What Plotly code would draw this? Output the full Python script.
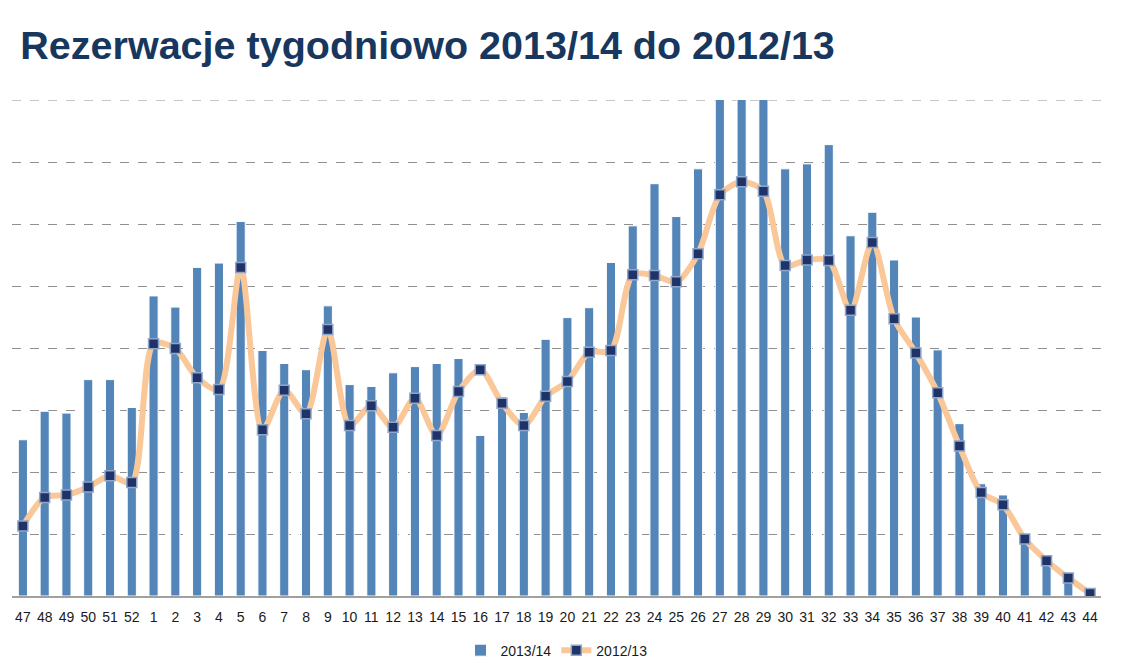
import plotly.graph_objects as go

weeks = ['47', '48', '49', '50', '51', '52'] + [str(i) for i in range(1, 45)]

season_1314 = [2.52, 2.98, 2.95, 3.49, 3.49, 3.04, 4.84, 4.66, 5.30, 5.37,
               6.04, 3.96, 3.75, 3.65, 4.68, 3.41, 3.38, 3.60, 3.70, 3.75,
               3.83, 2.59, 3.21, 2.96, 4.14, 4.49, 4.65, 5.38, 5.97, 6.65,
               6.12, 6.89, 8.60, 8.90, 8.70, 6.89, 6.97, 7.28, 5.81, 6.19,
               5.42, 4.50, 3.97, 2.78, 1.81, 1.63, 1.00, 0.65, 0.37, 0.03]

season_1213 = [1.13, 1.59, 1.63, 1.76, 1.94, 1.83, 4.07, 3.99, 3.52, 3.33,
               5.30, 2.68, 3.32, 2.94, 4.30, 2.75, 3.07, 2.72, 3.19, 2.59,
               3.30, 3.65, 3.11, 2.75, 3.22, 3.46, 3.93, 3.96, 5.18, 5.17,
               5.07, 5.52, 6.47, 6.68, 6.53, 5.33, 5.42, 5.41, 4.61, 5.70,
               4.47, 3.92, 3.28, 2.42, 1.67, 1.47, 0.92, 0.57, 0.29, 0.04]

y_top = 8

fig = go.Figure()

fig.add_trace(go.Bar(
    x=weeks, y=season_1314, name='2013/14',
    marker=dict(color='#5385b8', line=dict(color='#ffffff', width=1)),
))

fig.add_trace(go.Scatter(
    x=weeks, y=season_1213, name='2012/13',
    mode='lines+markers',
    line=dict(color='#fac898', width=6, shape='spline', smoothing=0.8),
    marker=dict(symbol='square', size=10, color='#1f3368',
                line=dict(color='#8fa6c9', width=1.5)),
))

# top gridline (plotly drops the one sitting on the range edge)
fig.add_hline(y=y_top, line=dict(color='#909090', width=1, dash='dash'), layer='below')

fig.update_xaxes(
    type='category', range=[-0.5, len(weeks) - 0.5], showgrid=False, ticks='',
    ticklabelstandoff=7,
    showline=True, linecolor='#a0a0a0', linewidth=1.5,
    tickfont=dict(family='Liberation Sans, sans-serif', size=14, color='#1a1a1a'),
)
fig.update_yaxes(
    range=[0, y_top], dtick=1, showticklabels=False,
    showgrid=True, gridcolor='#909090', griddash='dash', gridwidth=1,
    zeroline=False,
)

# page body adds 8px offset, so margins are shifted to compensate
fig.update_layout(
    width=1123, height=671,
    paper_bgcolor='white', plot_bgcolor='white',
    margin=dict(l=4, r=30, t=92, b=83),
    bargap=0.58,
    title=dict(
        text='<b>Rezerwacje tygodniowo 2013/14 do 2012/13</b>',
        x=0.011, xanchor='left', y=0.945, yanchor='middle',
        font=dict(family='Liberation Sans, sans-serif', size=39.5, color='#17375e'),
    ),
    legend=dict(
        orientation='h', x=0.5, xanchor='center', y=-0.11, yanchor='middle',
        font=dict(family='Liberation Sans, sans-serif', size=14, color='#1a1a1a'),
    ),
    showlegend=True,
)

fig.write_html("out.html")
